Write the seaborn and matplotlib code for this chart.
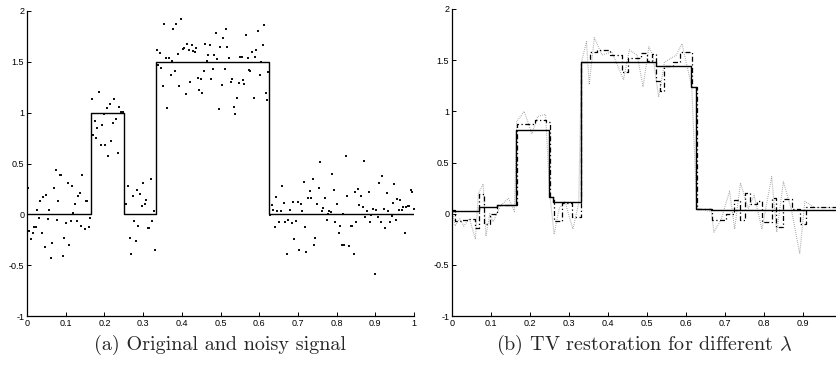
import numpy as np
import matplotlib
matplotlib.use("Agg")
import matplotlib.pyplot as plt
from matplotlib.ticker import FuncFormatter, MultipleLocator
import seaborn as sns

# --- DATA ---
# noisy samples, left panel
noisy_x = [
    0.002, 0.006, 0.010, 0.015, 0.019, 0.023, 0.026, 0.030, 0.034, 0.039, 0.041, 0.046, 0.050, 0.054,
    0.058, 0.062, 0.064, 0.070, 0.074, 0.078, 0.081, 0.084, 0.088, 0.093, 0.096, 0.101, 0.105, 0.108,
    0.113, 0.116, 0.120, 0.125, 0.128, 0.132, 0.136, 0.139, 0.143, 0.150, 0.153, 0.156, 0.160, 0.163,
    0.168, 0.171, 0.175, 0.179, 0.182, 0.187, 0.190, 0.194, 0.199, 0.202, 0.206, 0.210, 0.214, 0.218,
    0.222, 0.226, 0.230, 0.234, 0.238, 0.242, 0.247,
    0.255, 0.261, 0.266, 0.269, 0.273, 0.277, 0.281, 0.285, 0.288, 0.292, 0.296, 0.300, 0.304, 0.308,
    0.312, 0.316, 0.320, 0.323, 0.328, 0.331,
    0.335, 0.338, 0.343, 0.347, 0.351, 0.355, 0.359, 0.363, 0.367, 0.371, 0.375, 0.378, 0.382, 0.386,
    0.390, 0.394, 0.397, 0.402, 0.406, 0.410, 0.414, 0.418, 0.421, 0.426, 0.429, 0.433, 0.437, 0.441,
    0.445, 0.449, 0.452, 0.457, 0.460, 0.464, 0.468, 0.472, 0.475, 0.480, 0.484, 0.488, 0.492, 0.495,
    0.499, 0.503, 0.507, 0.511, 0.515, 0.518, 0.523, 0.526, 0.531, 0.535, 0.538, 0.543, 0.547, 0.550,
    0.555, 0.558, 0.562, 0.566, 0.570, 0.574, 0.577, 0.581, 0.586, 0.589, 0.593, 0.597, 0.601, 0.605,
    0.609, 0.612, 0.617, 0.620, 0.624,
    0.629, 0.632, 0.636, 0.640, 0.644, 0.647, 0.652, 0.656, 0.660, 0.664, 0.667, 0.671, 0.675, 0.679,
    0.684, 0.687, 0.691, 0.695, 0.699, 0.702, 0.708, 0.710, 0.715, 0.718, 0.722, 0.726, 0.731, 0.733,
    0.739, 0.742, 0.745, 0.750, 0.754, 0.758, 0.762, 0.766, 0.770, 0.774, 0.777, 0.781, 0.785, 0.788,
    0.793, 0.796, 0.801, 0.805, 0.808, 0.813, 0.816, 0.820, 0.824, 0.828, 0.831, 0.836, 0.839, 0.844,
    0.848, 0.851, 0.856, 0.859, 0.863, 0.867, 0.871, 0.874, 0.879, 0.883, 0.886, 0.890, 0.894, 0.899,
    0.902, 0.906, 0.910, 0.914, 0.917, 0.922, 0.926, 0.929, 0.934, 0.937, 0.942, 0.945, 0.949, 0.953,
    0.957, 0.960, 0.965, 0.968, 0.972, 0.977, 0.980, 0.985, 0.988, 0.992, 0.996, 1.000,
]
noisy_y = [
    0.26, -0.16, -0.24, -0.18, -0.12, -0.12, 0.04, -0.04, 0.13, -0.18, 0.17, -0.32, 0.19, -0.05,
    0.04, -0.43, -0.28, 0.26, 0.44, -0.06, 0.13, 0.39, 0.39, -0.41, -0.23, -0.09, 0.31, -0.30,
    -0.07, 0.28, 0.01, 0.10, -0.07, 0.18, 0.21, -0.11, 0.39, -0.14, 0.13, 0.13, -0.12, -0.04,
    1.13, 0.78, 0.92, 0.75, 0.85, 1.20, 0.68, 0.88, 0.99, 0.68, 1.05, 0.57, 1.09, 0.72,
    0.90, 1.13, 0.94, 0.60, 1.06, 1.01, 1.01,
    0.10, 0.28, -0.23, -0.39, 0.18, -0.07, -0.26, 0.24, -0.11, 0.20, 0.08, 0.31, 0.10, 0.14,
    -0.13, -0.13, 0.35, -0.07, 0.03, -0.35,
    1.62, 1.47, 1.59, 1.44, 1.26, 1.87, 1.54, 1.05, 1.54, 1.37, 1.51, 1.82, 1.41, 1.87,
    1.58, 1.26, 1.92, 1.63, 1.64, 1.18, 1.68, 1.62, 1.30, 1.67, 1.61, 1.60, 1.64, 1.34,
    1.22, 1.33, 1.19, 1.41, 1.68, 1.51, 1.57, 1.67, 1.33, 1.43, 1.57, 1.78, 1.53, 1.04,
    1.65, 1.27, 1.73, 1.43, 1.82, 1.65, 1.54, 1.30, 1.33, 1.06, 0.99, 1.14, 1.29, 1.55,
    1.55, 1.32, 1.28, 1.76, 1.54, 1.42, 1.41, 1.60, 1.14, 1.55, 1.62, 1.80, 1.37, 1.50,
    1.67, 1.86, 1.19, 1.12, 1.40,
    -0.01, 0.09, 0.04, -0.12, 0.17, 0.03, -0.08, 0.03, 0.28, 0.11, -0.08, -0.39, -0.06, 0.04,
    -0.09, 0.12, -0.24, -0.07, 0.12, -0.35, 0.10, 0.03, 0.32, -0.12, -0.37, 0.16, 0.23, 0.16,
    0.35, -0.30, -0.23, 0.10, 0.26, 0.51, 0.03, 0.06, 0.16, -0.06, 0.00, 0.03, 0.02, 0.40,
    0.24, -0.08, 0.10, -0.18, -0.11, -0.30, 0.00, -0.30, 0.57, 0.18, -0.31, -0.11, -0.11, -0.39,
    0.22, -0.08, 0.25, 0.09, 0.18, 0.07, 0.52, -0.03, 0.03, 0.22, -0.08, -0.01, 0.05, -0.59,
    0.04, -0.03, 0.31, -0.08, 0.38, 0.05, -0.13, 0.21, 0.03, -0.08, -0.02, 0.11, 0.30, -0.06,
    0.15, 0.04, 0.14, 0.04, 0.07, -0.18, 0.07, 0.08, 0.08, 0.24, 0.22, 0.05,
]

# original piecewise constant signal
signal_x = [0.0, 0.165, 0.251, 0.333, 0.626, 1.0]
signal_y = [0.0, 1.0, 0.0, 1.5, 0.0, 0.0]

# TV restorations, right panel (large / medium / small lambda)
tv_large_x = [0.0, 0.068, 0.115, 0.164, 0.250, 0.258, 0.332, 0.524, 0.613, 0.625, 0.665, 0.985]
tv_large_y = [0.03, 0.065, 0.08, 0.82, 0.16, 0.11, 1.48, 1.44, 1.24, 0.05, 0.035, 0.035]

tv_mid_x = [0.0, 0.008, 0.025, 0.042, 0.060, 0.068, 0.083, 0.097, 0.115, 0.166, 0.213, 0.242,
            0.251, 0.262, 0.282, 0.307, 0.332, 0.355, 0.371, 0.405, 0.435, 0.452, 0.486, 0.500,
            0.513, 0.523, 0.533, 0.545, 0.566, 0.585, 0.615, 0.628, 0.667, 0.702, 0.723, 0.740,
            0.752, 0.765, 0.782, 0.794, 0.821, 0.830, 0.850, 0.872, 0.893, 0.907, 0.985]
tv_mid_y = [0.04, -0.07, -0.06, -0.05, -0.14, 0.19, -0.10, 0.00, 0.08, 0.88, 0.92, 0.90,
            0.16, -0.07, 0.10, -0.03, 1.48, 1.58, 1.60, 1.55, 1.38, 1.52, 1.57, 1.49,
            1.56, 1.30, 1.20, 1.44, 1.48, 1.58, 1.24, 0.05, -0.06, 0.00, 0.13, -0.06,
            0.20, 0.09, 0.12, -0.08, 0.15, -0.13, 0.14, 0.05, -0.10, 0.07, 0.07]

tv_small_x = [0.0, 0.008, 0.020, 0.030, 0.045, 0.060, 0.068, 0.080, 0.087, 0.097, 0.105, 0.125,
              0.145, 0.160, 0.166, 0.185, 0.205, 0.220, 0.240, 0.251, 0.262, 0.275, 0.290, 0.310,
              0.325, 0.332, 0.345, 0.352, 0.365, 0.385, 0.410, 0.440, 0.455, 0.475, 0.490, 0.505,
              0.515, 0.530, 0.545, 0.575, 0.590, 0.615, 0.628, 0.665, 0.672, 0.690, 0.712, 0.725,
              0.740, 0.760, 0.775, 0.795, 0.820, 0.833, 0.850, 0.870, 0.892, 0.905, 0.930, 0.985]
tv_small_y = [0.05, -0.12, -0.05, -0.12, -0.05, -0.25, 0.20, 0.29, -0.22, 0.00, -0.08, 0.08,
              0.15, 0.02, 0.90, 1.00, 0.78, 0.95, 0.97, 0.18, -0.20, 0.05, 0.12, -0.15,
              0.10, 1.48, 1.68, 1.26, 1.72, 1.55, 1.58, 1.31, 1.60, 1.55, 1.24, 1.63,
              1.55, 1.14, 1.48, 1.55, 1.66, 1.24, 0.05, 0.02, -0.18, -0.06, 0.22, -0.15,
              0.30, 0.05, 0.18, -0.15, 0.36, -0.18, 0.31, 0.05, -0.39, 0.12, 0.06, 0.06]

yticks = [-1, -0.5, 0, 0.5, 1, 1.5, 2]

# --- STYLE ---
sns.set_theme(style="white")
plt.rcParams["font.family"] = ["Liberation Sans Narrow", "Liberation Sans", "DejaVu Sans"]
plt.rcParams["axes.unicode_minus"] = False
plt.rcParams["mathtext.fontset"] = "cm"
plt.rcParams["xtick.direction"] = "in"
plt.rcParams["ytick.direction"] = "in"


def matlab_axes(ax, xmax):
    ax.set_xlim(0, xmax)
    ax.set_ylim(-1, 2)
    ax.set_yticks(yticks)
    ax.xaxis.set_major_locator(MultipleLocator(0.1))
    fmt = FuncFormatter(lambda v, _: "%g" % round(v, 2))
    ax.xaxis.set_major_formatter(fmt)
    ax.yaxis.set_major_formatter(fmt)
    ax.tick_params(axis="both", which="major", labelsize=6.5, length=3, width=0.7,
                   pad=2, colors="black", left=True, bottom=True)
    ax.set_xlabel("")
    ax.set_ylabel("")
    sns.despine(ax=ax)
    for sp in ("left", "bottom"):
        ax.spines[sp].set_color("black")
        ax.spines[sp].set_linewidth(0.9)


fig = plt.figure(figsize=(8.36, 3.68), dpi=100)
ax1 = fig.add_axes([27 / 836, 52 / 368, 387 / 836, 305 / 368])
ax2 = fig.add_axes([452 / 836, 52 / 368, 384 / 836, 307 / 368])

# (a) original and noisy signal
sns.lineplot(x=signal_x, y=signal_y, ax=ax1, color="black", linewidth=1.0,
             drawstyle="steps-post", estimator=None, sort=False)
sns.scatterplot(x=noisy_x, y=noisy_y, ax=ax1, color="#111111", marker="s", s=1.8,
                linewidth=0)
matlab_axes(ax1, 1.0)

# (b) TV restoration for different lambda
sns.lineplot(x=tv_small_x, y=tv_small_y, ax=ax2, color="#8c8c8c", linewidth=0.8,
             linestyle=(0, (0.6, 1.2)), estimator=None, sort=False)
sns.lineplot(x=tv_mid_x, y=tv_mid_y, ax=ax2, color="black", linewidth=0.9,
             linestyle=(0, (4, 2, 1, 2)), drawstyle="steps-post", estimator=None, sort=False)
sns.lineplot(x=tv_large_x, y=tv_large_y, ax=ax2, color="black", linewidth=1.0,
             drawstyle="steps-post", estimator=None, sort=False)
matlab_axes(ax2, 0.985)

cap = dict(family="cmr10", fontsize=14.5, ha="center", va="center")
fig.text(ax1.get_position().x0 + ax1.get_position().width / 2, 0.062,
         "(a) Original and noisy signal", **cap)
fig.text(ax2.get_position().x0 + 192 / 836, 0.062,
         r"(b) TV restoration for different $\lambda$", **cap)

fig.savefig("out.png", dpi=100)
